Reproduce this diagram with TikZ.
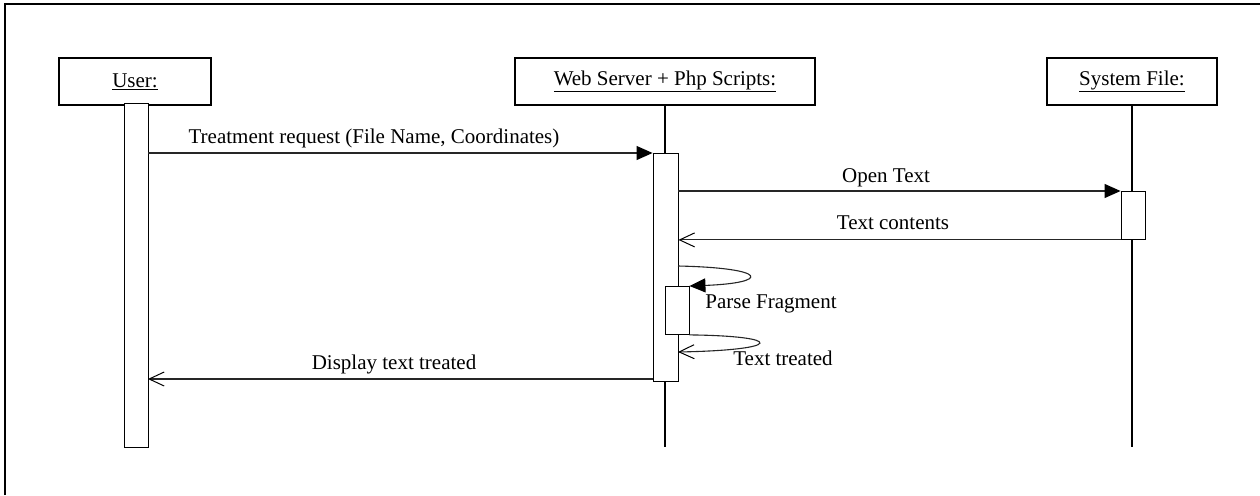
\documentclass[tikz,border=0pt]{standalone}
\usepackage{fontspec}
\setmainfont{Liberation Serif}
\usetikzlibrary{arrows.meta}
\begin{document}
\begin{tikzpicture}[x=1pt,y=-1pt,
  font=\fontsize{21}{25}\selectfont,
  headbox/.style={draw, line width=1.3pt, fill=white, minimum height=47pt, inner sep=0pt},
  actbar/.style={draw, line width=0.9pt, fill=white, minimum width=24pt, inner sep=0pt, anchor=north},
  lifeline/.style={line width=2pt},
  msg/.style={line width=1.1pt, black!85},
  sync/.style={msg, -{Triangle[length=16pt,width=14pt,black]}},
  reply/.style={msg, -{Straight Barb[length=15pt,width=14pt,line width=1pt,black]}},
  lbl/.style={anchor=base, inner sep=0pt}]
\useasboundingbox (0,0) rectangle (1260,495);
% frame
\draw[line width=2.2pt] (5,495) |- (1260,4);
% headers
\node[headbox, minimum width=152pt] (user) at (135,81.5) {\underline{User:}};
\node[headbox, minimum width=300pt] (web) at (665,81.5) {\underline{Web Server + Php Scripts:}};
\node[headbox, minimum width=170pt] (sys) at (1132,81.5) {\underline{System File:}};
% lifeline ends
\coordinate (webend) at (665,447);
\coordinate (sysend) at (1132,447);
\draw[lifeline] (web.south) -- (webend);
\draw[lifeline] (sys.south) -- (sysend);
% activation bars
\node[actbar, minimum height=344pt] (ubar) at (136,103) {};
\node[actbar, minimum width=25pt, minimum height=228pt] (wbar) at (665.5,153) {};
\node[actbar, minimum height=48pt] (sbar) at (1133,191) {};
\node[actbar, minimum height=48pt] (nest) at (677,286) {};
% message coordinates
\coordinate (s1) at (678,266);
\coordinate (r1) at (678,352);
\coordinate (d1) at (653,379);
\coordinate (d2) at (148,379);
% messages
\draw[sync] (ubar.east |- wbar.north) -- (wbar.north west);
\draw[sync] (wbar.east |- sbar.north) -- (sbar.north west);
\draw[reply] (sbar.south west) -- (wbar.east |- sbar.south);
\draw[sync] (s1) .. controls (770,268) and (770,283) .. (nest.north east);
\draw[reply] (nest.south east) .. controls (785,336) and (785,350) .. (r1);
\draw[reply] (d1) -- (d2);
% labels
\node[lbl] (l1) at (374,143) {Treatment request (File Name, Coordinates)};
\node[lbl] (l2) at (886,182) {Open Text};
\node[lbl] (l3) at (893,229) {Text contents};
\node[lbl] (l4) at (771,308) {Parse Fragment};
\node[lbl] (l5) at (783,365) {Text treated};
\node[lbl] (l6) at (394,369) {Display text treated};
\end{tikzpicture}
\end{document}
